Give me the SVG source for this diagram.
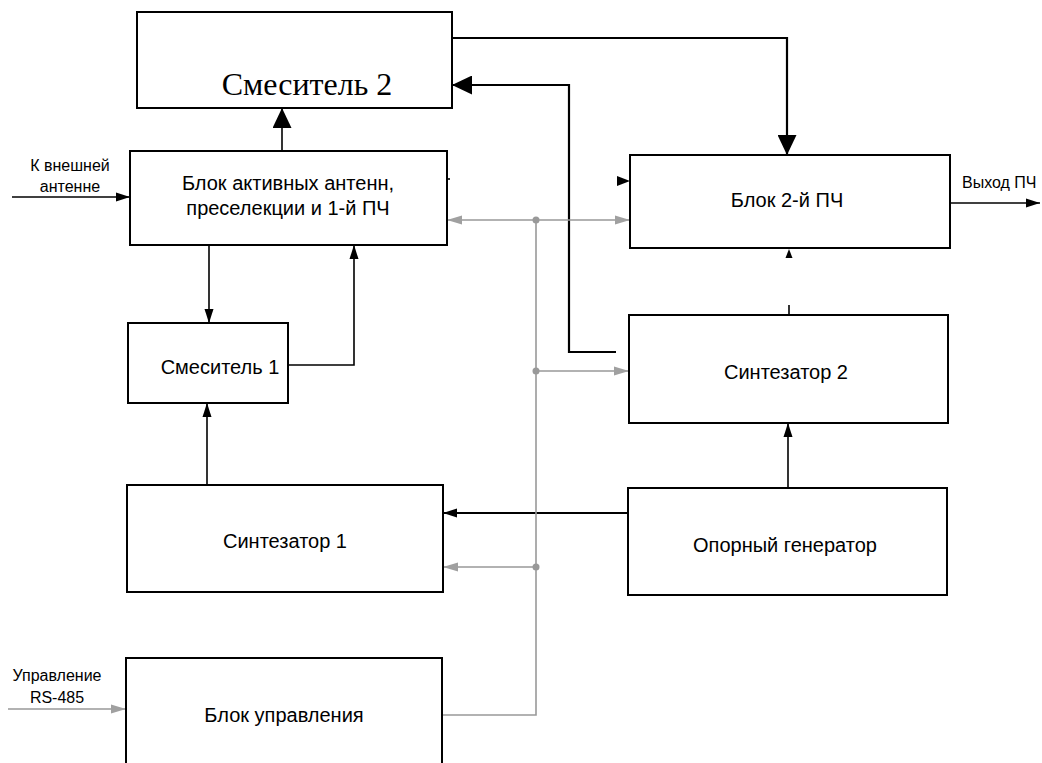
<svg xmlns="http://www.w3.org/2000/svg" width="1042" height="763" viewBox="0 0 1042 763">
<style>
.box{fill:#fff;stroke:#000;stroke-width:2}
.t{font-family:"Liberation Sans",Arial,sans-serif;font-size:20px;fill:#000;text-anchor:middle}
.lbl{font-family:"Liberation Sans",Arial,sans-serif;font-size:16px;fill:#000;text-anchor:middle}
.serif{font-family:"Liberation Serif","Times New Roman",serif;font-size:32px;fill:#000;text-anchor:middle}
.c{fill:none;stroke:#000;stroke-width:1.6}
.ct{fill:none;stroke:#000;stroke-width:2.2}
.g{fill:none;stroke:#999;stroke-width:1.6}
</style>
<defs>
<marker id="big" markerUnits="userSpaceOnUse" markerWidth="20" markerHeight="19" refX="20" refY="9.5" orient="auto"><path d="M0,0 L20,9.5 L0,19 z" fill="#000"/></marker>
<marker id="sm" markerUnits="userSpaceOnUse" markerWidth="14" markerHeight="10" refX="14" refY="5" orient="auto"><path d="M0,0.5 L14,5 L0,9.5 z" fill="#000"/></marker>
<marker id="gr" markerUnits="userSpaceOnUse" markerWidth="15" markerHeight="10" refX="15" refY="5" orient="auto"><path d="M0,0.5 L15,5 L0,9.5 z" fill="#a0a0a0"/></marker>
</defs>
<g id="connectors">
<path class="ct" d="M452,38 H787 V155" marker-end="url(#big)"/>
<path class="ct" d="M616,352 H569 V85 H452" marker-end="url(#big)"/>
<path class="c" d="M282,151 V108" marker-end="url(#big)"/>
<path class="c" d="M12,197 H130" marker-end="url(#sm)"/>
<path class="c" d="M209,245 V323" marker-end="url(#sm)"/>
<path class="c" d="M288,365 H354 V245" marker-end="url(#sm)"/>
<path class="c" d="M207,485 V403" marker-end="url(#sm)"/>
<path class="ct" d="M628,513 H443" marker-end="url(#sm)"/>
<path class="c" d="M788,488 V423" marker-end="url(#sm)"/>
<path class="c" d="M950,203 H1040" marker-end="url(#sm)"/>
<polygon points="617,176 630,181 617,186" fill="#000"/>
<polygon points="789,249 785.5,258 792.5,258" fill="#000"/>
<path class="c" d="M789,305 V315"/>
<path class="c" d="M447,179 H450"/>
<path class="g" d="M442,715 H536 V220"/>
<path class="g" d="M536,220 H447" marker-end="url(#gr)"/>
<path class="g" d="M536,220 H630" marker-end="url(#gr)"/>
<path class="g" d="M536,371 H629" marker-end="url(#gr)"/>
<path class="g" d="M536,567 H443" marker-end="url(#gr)"/>
<path class="g" d="M8,709 H126" marker-end="url(#gr)"/>
<circle cx="536" cy="220" r="3.5" fill="#999"/>
<circle cx="536" cy="371" r="3.5" fill="#999"/>
<circle cx="536" cy="567" r="3.5" fill="#999"/>
</g>
<g id="mixer2"><rect class="box" x="137" y="12" width="315" height="96"/><text class="serif" x="307" y="95">Смеситель 2</text></g>
<g id="antenna-block"><rect class="box" x="130" y="151" width="317" height="94"/><text class="t" x="288" y="190">Блок активных антенн,</text><text class="t" x="288" y="215">преселекции и 1-й ПЧ</text></g>
<g id="mixer1"><rect class="box" x="128" y="323" width="160" height="80"/><text class="t" x="220" y="374">Смеситель 1</text></g>
<g id="synth1"><rect class="box" x="127" y="485" width="316" height="107"/><text class="t" x="285" y="548">Синтезатор 1</text></g>
<g id="control"><rect class="box" x="126" y="658" width="316" height="120"/><text class="t" x="284" y="722">Блок управления</text></g>
<g id="if2"><rect class="box" x="630" y="155" width="320" height="93"/><text class="t" x="787" y="207">Блок 2-й ПЧ</text></g>
<g id="synth2"><rect class="box" x="629" y="315" width="319" height="108"/><text class="t" x="786" y="379">Синтезатор 2</text></g>
<g id="refgen"><rect class="box" x="628" y="488" width="319" height="107"/><text class="t" x="785" y="552">Опорный генератор</text></g>
<g id="labels">
<text class="lbl" x="70" y="171">К внешней</text>
<text class="lbl" x="70" y="192">антенне</text>
<text class="lbl" x="57" y="681">Управление</text>
<text class="lbl" x="57" y="703">RS-485</text>
<text class="lbl" x="962" y="188" style="text-anchor:start">Выход ПЧ</text>
</g>
</svg>
